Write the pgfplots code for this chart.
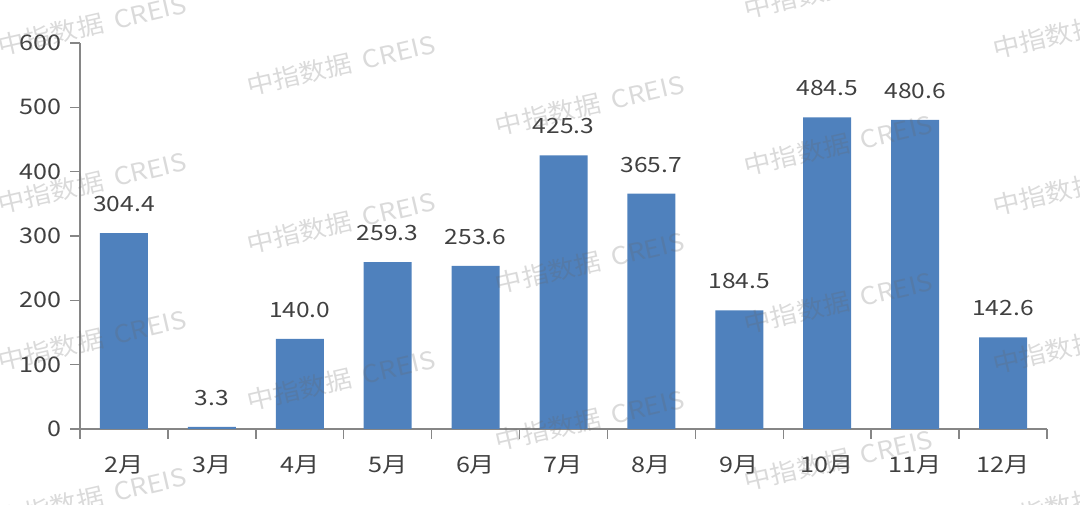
\documentclass[border=0pt]{standalone}
\usepackage{fontspec}
\setmainfont{Noto Sans CJK SC}[FakeStretch=1.17]
\newfontfamily\wmfont{Noto Sans CJK SC}[FakeStretch=1.1]
\usepackage{pgfplots}
\pgfplotsset{compat=1.18}

\definecolor{barblue}{RGB}{79,129,189}
\definecolor{txt}{RGB}{64,64,64}
\definecolor{axisgray}{RGB}{134,134,134}

\begin{document}
\begin{tikzpicture}
% page = 1080 x 505 px, 1px = 1pt, axis origin at pixel (80,429)
\useasboundingbox (-80pt,-76pt) rectangle (1000pt,429pt);
\begin{axis}[
    at={(0pt,0pt)}, anchor=south west,
    scale only axis,
    width=967pt, height=386pt,
    xmin=-0.5, xmax=10.5,
    ymin=0, ymax=600,
    axis x line=bottom, axis y line=left,
    axis line style={axisgray, line width=1.4pt, -},
    every tick/.style={axisgray, line width=1.4pt},
    tick align=outside,
    major tick length=10pt,
    xtick={-0.5,0.5,...,10.5},
    x tick label as interval,
    xticklabels={2月,3月,4月,5月,6月,7月,8月,9月,10月,11月,12月},
    ytick={0,100,...,600},
    /pgf/number format/assume math mode=true,
    tick label style={font=\fontsize{21.5}{25}\selectfont, text=txt},
    x tick label style={yshift=-13pt},
    y tick label style={xshift=-5pt},
    ybar, bar width=48pt,
    nodes near coords={\pgfmathprintnumber[fixed,fixed zerofill,precision=1]{\pgfplotspointmeta}},
    every node near coord/.append style={font=\fontsize{21}{25}\selectfont, text=txt, anchor=base, yshift=21.5pt},
    clip=false,
]
\addplot[fill=barblue, draw=none] coordinates {
    (0,304.4) (1,3.3) (2,140.0) (3,259.3) (4,253.6) (5,425.3)
    (6,365.7) (7,184.5) (8,484.5) (9,480.6) (10,142.6)
};
\end{axis}
% watermark
\foreach \i in {0,...,4} {
  \foreach \j in {-1,...,3} {
    \node[anchor=west, rotate=13, inner sep=0pt, text=black!60, opacity=0.24,
          font=\fontsize{24.5}{28}\wmfont]
      at ({-82pt+248.75pt*\i}, {382pt-40pt*\i-157.5pt*\j}) {中指数据\hspace{11pt}CREIS};
  }
}
\end{tikzpicture}
\end{document}
